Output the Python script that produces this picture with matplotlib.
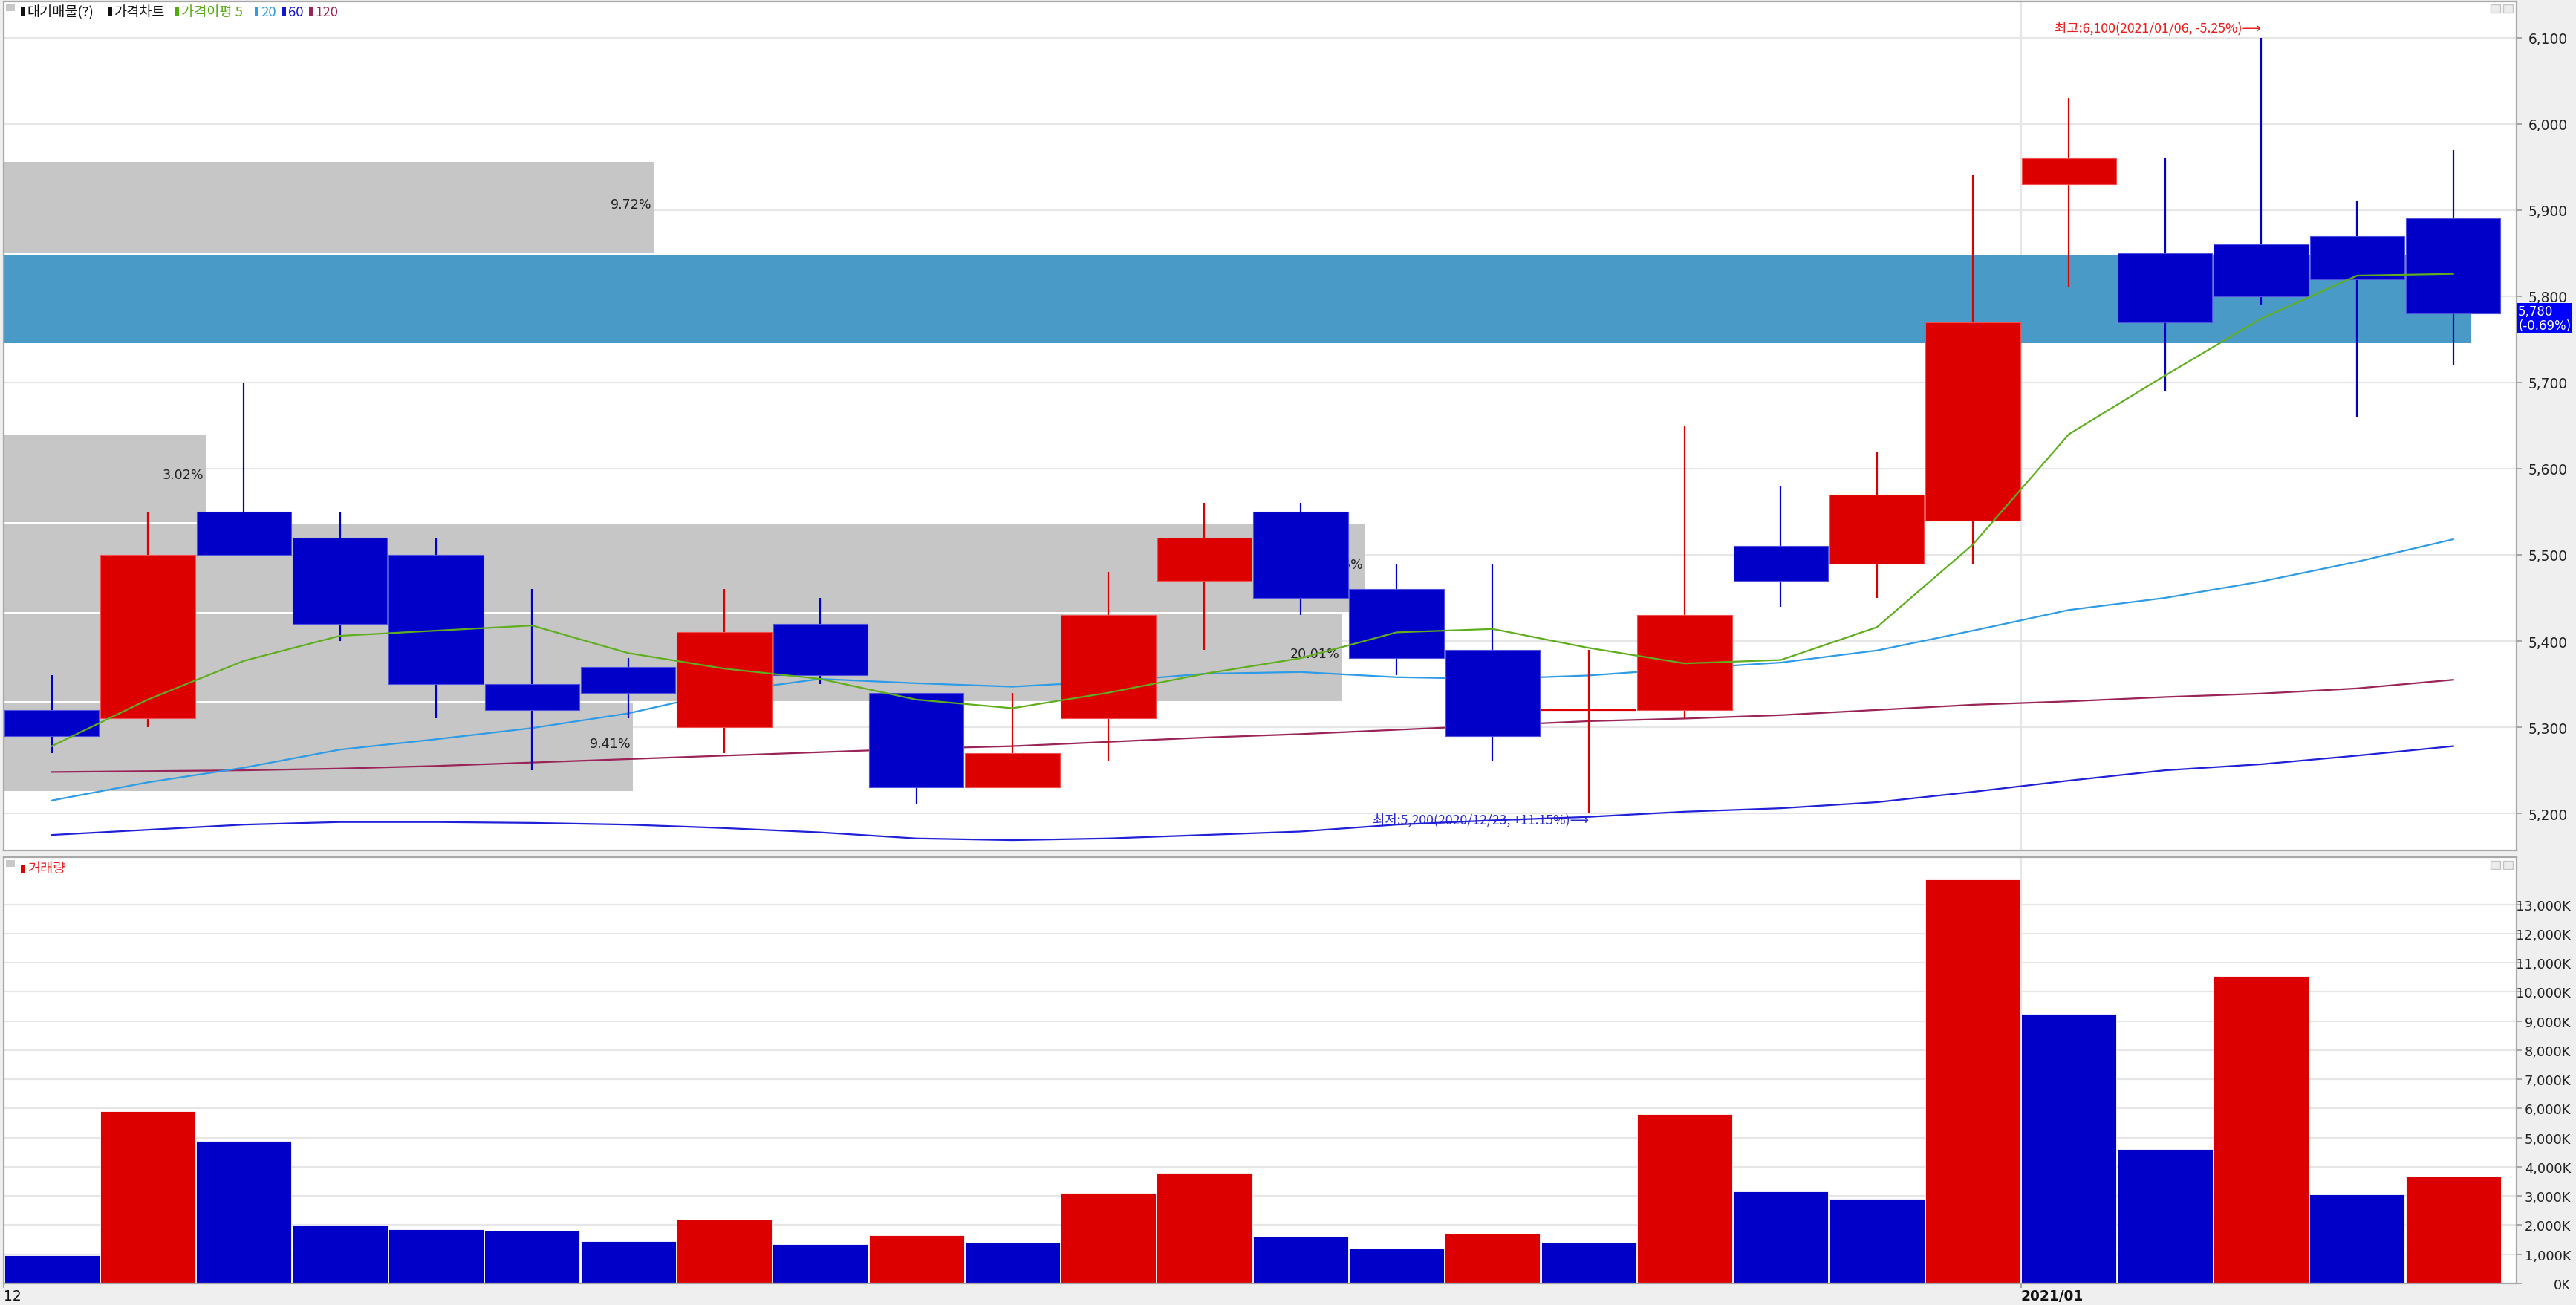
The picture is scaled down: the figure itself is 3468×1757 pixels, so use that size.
import matplotlib

matplotlib.use("Agg")
import matplotlib.pyplot as plt  # noqa: E402
from matplotlib.patches import Rectangle  # noqa: E402

# daily candles, 2020/12 .. 2021/01 (KRW)
opens = [5320, 5310, 5550, 5520, 5500, 5350, 5370, 5300, 5420, 5340, 5230, 5310, 5470,
         5550, 5460, 5390, 5320, 5320, 5510, 5490, 5540, 5930, 5850, 5860, 5870, 5890]
highs = [5360, 5550, 5700, 5550, 5520, 5460, 5380, 5460, 5450, 5340, 5340, 5480, 5560,
         5560, 5490, 5490, 5390, 5650, 5580, 5620, 5940, 6030, 5960, 6100, 5910, 5970]
lows = [5270, 5300, 5500, 5400, 5310, 5250, 5310, 5270, 5350, 5210, 5230, 5260, 5390,
        5430, 5360, 5260, 5200, 5310, 5440, 5450, 5490, 5810, 5690, 5790, 5660, 5720]
closes = [5290, 5500, 5500, 5420, 5350, 5320, 5340, 5410, 5360, 5230, 5270, 5430, 5520,
          5450, 5380, 5290, 5320, 5430, 5470, 5570, 5770, 5960, 5770, 5800, 5820, 5780]

# volume, thousand shares
volumes = [980, 5900, 4900, 2000, 1850, 1800, 1450, 2200, 1350, 1650, 1400, 3100, 3800,
           1600, 1200, 1700, 1400, 5800, 3150, 2900, 13850, 9250, 4620, 10550, 3050, 3660]

# moving averages
ma5 = [5278, 5332, 5377, 5406, 5412, 5418, 5386, 5368, 5356, 5332, 5322, 5340, 5362,
       5380, 5410, 5414, 5392, 5374, 5378, 5416, 5512, 5640, 5708, 5774, 5824, 5826]
ma20 = [5215, 5236, 5253, 5274, 5286, 5299, 5316, 5341, 5356, 5351, 5347, 5353, 5362,
        5364, 5358, 5356, 5360, 5368, 5375, 5389, 5412, 5436, 5450, 5469, 5492, 5518]
ma60 = [5175, 5181, 5187, 5190, 5190, 5189, 5187, 5183, 5178, 5171, 5169, 5171, 5175,
        5179, 5187, 5192, 5196, 5202, 5206, 5213, 5225, 5238, 5250, 5257, 5267, 5278]
ma120 = [5248, 5249, 5250, 5252, 5255, 5259, 5263, 5267, 5271, 5275, 5278, 5283, 5288,
         5292, 5297, 5302, 5307, 5310, 5314, 5320, 5326, 5330, 5335, 5339, 5345, 5355]

# volume-by-price bands (대기매물)
band_low = [5226, 5330, 5434, 5538, 5642, 5746, 5850]
band_high = [5328, 5432, 5536, 5640, 5744, 5848, 5956]
band_pct = [9.41, 20.01, 20.36, 3.02, 0.0, 36.90, 9.72]

price_ticks = [5200, 5300, 5400, 5500, 5600, 5700, 5800, 5900, 6000, 6100]
vol_ticks = list(range(0, 14000, 1000))
x_ticks = [-0.5, 20.5]
x_labels = ["12", "2021/01"]

RED = "#dd0000"
BLUE = "#0000c8"
GRID = "#e6e6e6"
SPINE = "#a8a8a8"
KR = ["Noto Sans CJK KR", "DejaVu Sans"]
FS = 6.7

W, H = 3468, 1758


def fx(px):
    return px / W


def fy(py):
    return 1 - py / H


fig = plt.figure(figsize=(W / 200, H / 200), dpi=200, facecolor="#efefef")
ax_p = fig.add_axes([fx(5), fy(1146), (3388 - 5) / W, (1146 - 3) / H])
ax_v = fig.add_axes([fx(5), fy(1729), (3388 - 5) / W, (1729 - 1155) / H])

n = len(closes)
xs = list(range(n))

# --- price panel ---
for y in price_ticks:
    ax_p.axhline(y, color=GRID, lw=0.8, zorder=0)
ax_p.axvline(20.5, color=GRID, lw=0.8, zorder=0)

unit = 0.6962  # x-units per percent
top_band = band_pct.index(max(band_pct))
for i, (lo, hi, pct) in enumerate(zip(band_low, band_high, band_pct)):
    if pct <= 0:
        continue
    fc = "#4a9ac8" if i == top_band else "#c6c6c6"
    ax_p.barh((lo + hi) / 2, pct * unit, height=hi - lo, left=-0.5, color=fc,
              edgecolor="none", zorder=1)
    ax_p.text(-0.5 + pct * unit - 0.02, (lo + hi) / 2 + 4, f"{pct:.2f}%", ha="right",
              va="center", fontsize=FS - 0.4, color="#222222", zorder=2)

ax_p.plot(xs, ma120, color="#9a2458", lw=0.8, zorder=3)
ax_p.plot(xs, ma60, color="#2020d8", lw=0.8, zorder=3)
ax_p.plot(xs, ma20, color="#2e9be6", lw=0.8, zorder=3)

for x, o, h, l, c in zip(xs, opens, highs, lows, closes):
    col = RED if c >= o else BLUE
    edge = "#f05050" if c >= o else "#5050e0"
    ax_p.vlines(x, l, h, color=col, lw=0.8, zorder=4)
    if c == o:
        ax_p.hlines(c, x - 0.49, x + 0.49, color=col, lw=0.8, zorder=5)
    else:
        ax_p.bar(x, abs(c - o), bottom=min(o, c), width=0.985, color=col,
                 edgecolor=edge, lw=0.4, zorder=5)

ax_p.plot(xs, ma5, color="#5fae1e", lw=0.8, zorder=6)

ax_p.text(23, 6112, "최고:6,100(2021/01/06, -5.25%)⟶", ha="right", va="center",
          fontsize=FS - 0.3, color="#ee1c1c", family=KR, zorder=7)
ax_p.text(16, 5193, "최저:5,200(2020/12/23, +11.15%)⟶", ha="right", va="center",
          fontsize=FS - 0.3, color="#2a2ad0", family=KR, zorder=2)

ax_p.set_xlim(-0.5, 25.66)
ax_p.set_ylim(5157, 6142)
ax_p.set_xticks([])
ax_p.yaxis.tick_right()
ax_p.set_yticks(price_ticks, [f"{v:,}" for v in price_ticks])
ax_p.tick_params(axis="y", direction="out", length=2.5, width=0.6, color="#999999",
                 labelsize=FS, pad=3.2, labelcolor="#222222")

ax_p.annotate("5,780\n(-0.69%)", xy=(1, 5790), xycoords=("axes fraction", "data"),
              xytext=(0.8, 0), textcoords="offset points", ha="left", va="top",
              fontsize=6.0, color="white", linespacing=1.05,
              bbox=dict(boxstyle="square,pad=0.12", fc="#0000ff", ec="none"),
              annotation_clip=False)

# --- volume panel ---
for y in vol_ticks:
    ax_v.axhline(y, color=GRID, lw=0.8, zorder=0)
ax_v.axvline(20.5, color=GRID, lw=0.8, zorder=0)

vol_colors = [BLUE] + [RED if v > p else BLUE for p, v in zip(volumes[:-1], volumes[1:])]
ax_v.bar(xs, volumes, width=0.99, color=vol_colors, edgecolor="white", lw=0.3, zorder=2)

ax_v.set_xlim(-0.5, 25.66)
ax_v.set_ylim(0, 14620)
ax_v.yaxis.tick_right()
ax_v.set_yticks(vol_ticks, [f"{v:,}K" for v in vol_ticks], ha="right")
ax_v.tick_params(axis="y", direction="out", length=2.5, width=0.6, color="#999999",
                 labelsize=FS - 0.3, pad=23.8, labelcolor="#222222")
ax_v.set_xticks(x_ticks, x_labels, ha="left")
ax_v.tick_params(axis="x", direction="out", length=2.2, width=0.6, color="#999999",
                 labelsize=FS, pad=0.5, labelcolor="#111111")
ax_v.get_xticklabels()[1].set_fontweight("bold")

for ax in (ax_p, ax_v):
    ax.set_facecolor("white")
    for s in ax.spines.values():
        s.set_color(SPINE)
        s.set_linewidth(0.8)

# --- headers ---
legend_items = [("대기매물(?)", "#111111", 28), ("가격차트", "#111111", 146),
                ("가격이평 5", "#55aa10", 236), ("20", "#2e9be6", 343),
                ("60", "#1414d0", 380), ("120", "#9a2458", 416)]
fig.patches.append(Rectangle((fx(8), fy(16)), 12 / W, 9 / H, transform=fig.transFigure,
                             fc="#c8c8c8", ec="none"))
for label, col, px in legend_items:
    fig.patches.append(Rectangle((fx(px), fy(22)), 5 / W, 11 / H,
                                 transform=fig.transFigure, fc=col, ec="none"))
    fig.text(fx(px + 8), fy(17), label, ha="left", va="center", fontsize=FS,
             color=col, family=KR)

fig.patches.append(Rectangle((fx(8), fy(1168)), 12 / W, 9 / H, transform=fig.transFigure,
                             fc="#c8c8c8", ec="none"))
fig.patches.append(Rectangle((fx(28), fy(1176)), 5 / W, 11 / H, transform=fig.transFigure,
                             fc=RED, ec="none"))
fig.text(fx(37), fy(1170), "거래량", ha="left", va="center", fontsize=FS, color="#ee1c1c",
         family=KR)

# window buttons
for top in (7, 1160):
    for left in (3353, 3370):
        fig.patches.append(Rectangle((fx(left), fy(top + 11)), 13 / W, 11 / H,
                                     transform=fig.transFigure, fc="#ececec",
                                     ec="#c4c4c4", lw=0.5))

fig.savefig("out.png", dpi=200, facecolor=fig.get_facecolor())
